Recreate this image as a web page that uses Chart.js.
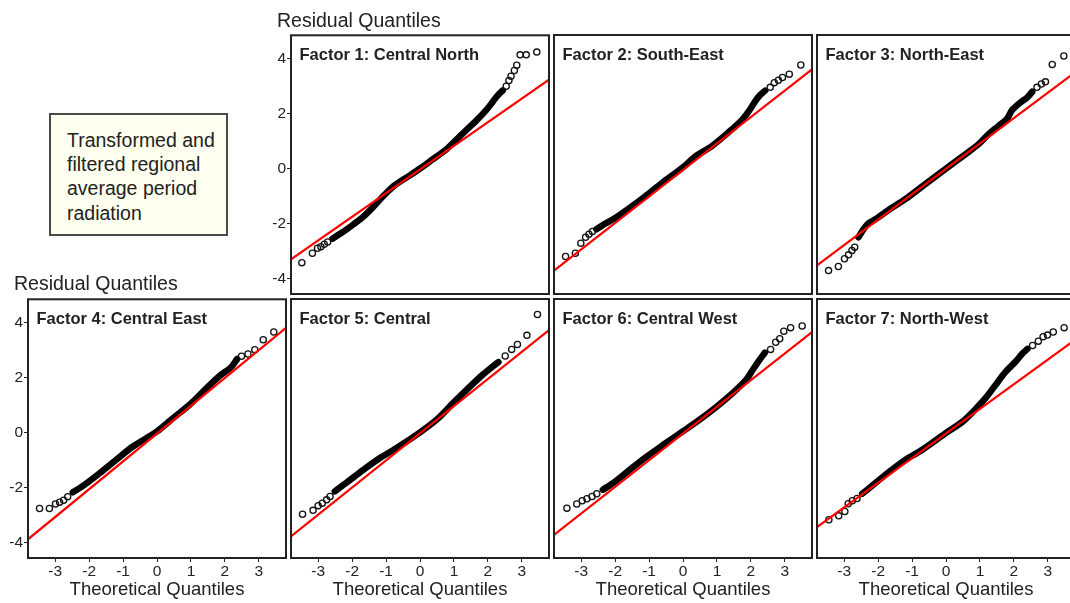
<!DOCTYPE html>
<html>
<head>
<meta charset="utf-8">
<script src="https://cdn.jsdelivr.net/npm/chart.js@4.4.1/dist/chart.umd.min.js"></script>
<style>
  html, body { margin: 0; padding: 0; background: #fff; }
  body { width: 1070px; height: 603px; overflow: hidden; position: relative;
         font-family: "Liberation Sans", Arial, sans-serif; color: #222; }
  canvas { position: absolute; }
  .lbl { position: absolute; white-space: nowrap; line-height: 1; }
  .axis { font-size: 19.5px; }
  .xaxis { font-size: 18.5px; width: 258px; text-align: center; }
  .ptitle { font-size: 16.5px; font-weight: bold; }
  .note { position: absolute; left: 49px; top: 113px; width: 175px; height: 119px;
          background: #fffff0; border: 2px solid #4a4a4a; }
  .note div { position: absolute; left: 16px; top: 13px; font-size: 19.5px; line-height: 24.2px; }
</style>
</head>
<body>

<div class="note"><div>Transformed and<br>filtered regional<br>average period<br>radiation</div></div>

<script>
// Axis ticks shared by all panels
const xTickValues = [-3, -2, -1, 0, 1, 2, 3];
const yTickValues = [-4, -2, 0, 2, 4];
const xRange = [-3.8, 3.8];
const yRange = [-4.55, 4.85];

const panelTitles = [
  "Factor 1: Central North", "Factor 2: South-East", "Factor 3: North-East",
  "Factor 4: Central East", "Factor 5: Central", "Factor 6: Central West", "Factor 7: North-West"
];

// Sample vs theoretical quantiles: dense body of each panel
const f1Body = [[-2.58,-2.54],[-2.38,-2.38],[-2.18,-2.22],[-1.94,-2.00],[-1.69,-1.76],[-1.49,-1.53],[-1.30,-1.28],[-1.00,-0.89],[-0.71,-0.57],[-0.31,-0.25],[0,0.01],[0.37,0.34],[0.77,0.70],[1.06,1.04],[1.36,1.40],[1.65,1.74],[1.95,2.13],[2.14,2.43],[2.29,2.67],[2.44,2.85]];
const f2Body = [[-2.55,-2.20],[-2.30,-2.00],[-2.01,-1.80],[-1.61,-1.46],[-1.12,-1.01],[-0.63,-0.53],[0,0.05],[0.35,0.43],[0.85,0.82],[1.34,1.32],[1.73,1.76],[1.93,2.07],[2.12,2.43],[2.27,2.67],[2.42,2.83]];
const f3Body = [[-2.58,-2.49],[-2.43,-2.20],[-2.28,-1.98],[-2.08,-1.84],[-1.69,-1.50],[-1.20,-1.11],[-0.71,-0.65],[0,0],[0.57,0.52],[0.96,0.89],[1.26,1.26],[1.55,1.55],[1.80,1.82],[1.95,2.13],[2.19,2.40],[2.39,2.58],[2.54,2.79]];
const f4Body = [[-2.48,-2.16],[-2.18,-1.93],[-1.69,-1.47],[-1.20,-0.98],[-0.71,-0.50],[0,0.05],[0.47,0.53],[0.96,1.02],[1.46,1.62],[1.85,2.07],[2.19,2.39],[2.36,2.68]];
const f5Body = [[-2.51,-2.13],[-2.16,-1.81],[-1.67,-1.35],[-1.18,-0.92],[-0.69,-0.56],[0,0.01],[0.49,0.47],[0.98,1.08],[1.38,1.56],[1.77,2.02],[2.06,2.32],[2.31,2.56]];
const f6Body = [[-2.36,-2.07],[-2.06,-1.83],[-1.57,-1.35],[-1.08,-0.88],[-0.59,-0.45],[0,0.05],[0.49,0.47],[0.98,0.93],[1.47,1.44],[1.87,1.93],[2.06,2.29],[2.26,2.65],[2.41,2.90]];
const f7Body = [[-2.47,-2.22],[-2.17,-1.92],[-1.68,-1.43],[-1.19,-0.98],[-0.70,-0.62],[0,-0.01],[0.48,0.39],[0.88,0.87],[1.17,1.26],[1.47,1.75],[1.76,2.21],[2.06,2.59],[2.25,2.87],[2.40,3.04]];

// Individual extreme observations in both tails
const f1Tail = [[-3.48,-3.41],[-3.17,-3.07],[-3.02,-2.89],[-2.92,-2.83],[-2.82,-2.74],[-2.72,-2.66],[2.54,3.00],[2.62,3.21],[2.68,3.36],[2.78,3.57],[2.85,3.76],[2.95,4.14],[3.13,4.14],[3.44,4.24]];
const f2Tail = [[-3.46,-3.19],[-3.17,-3.07],[-3.01,-2.71],[-2.87,-2.49],[-2.77,-2.38],[-2.67,-2.28],[2.57,2.95],[2.69,3.12],[2.81,3.21],[2.93,3.31],[3.13,3.43],[3.47,3.76]];
const f3Tail = [[-3.46,-3.70],[-3.17,-3.55],[-2.99,-3.27],[-2.87,-3.13],[-2.77,-2.97],[-2.69,-2.85],[2.68,2.95],[2.81,3.07],[2.93,3.15],[3.13,3.78],[3.47,4.09]];
const f4Tail = [[-3.46,-2.75],[-3.17,-2.75],[-2.99,-2.59],[-2.87,-2.52],[-2.75,-2.45],[-2.63,-2.32],[2.49,2.78],[2.68,2.86],[2.88,3.02],[3.13,3.38],[3.44,3.66]];
const f5Tail = [[-3.46,-2.96],[-3.15,-2.82],[-3.00,-2.65],[-2.88,-2.56],[-2.75,-2.44],[-2.65,-2.32],[2.51,2.78],[2.70,3.02],[2.87,3.20],[3.15,3.53],[3.46,4.29]];
const f6Tail = [[-3.42,-2.74],[-3.13,-2.59],[-2.97,-2.47],[-2.83,-2.40],[-2.68,-2.32],[-2.54,-2.22],[2.58,3.02],[2.73,3.28],[2.85,3.41],[2.97,3.68],[3.17,3.81],[3.51,3.87]];
const f7Tail = [[-3.45,-3.16],[-3.16,-3.02],[-2.98,-2.86],[-2.88,-2.58],[-2.76,-2.47],[-2.62,-2.39],[2.55,3.16],[2.72,3.32],[2.86,3.48],[2.99,3.54],[3.16,3.65],[3.48,3.81]];

// Reference (quartile) lines, given by their ends
const f1Line = [[-3.8,-3.29],[3.8,3.24]];
const f2Line = [[-3.8,-3.70],[3.8,3.60]];
const f3Line = [[-3.8,-3.51],[3.8,3.49]];
const f4Line = [[-3.8,-3.87],[3.8,3.81]];
const f5Line = [[-3.8,-3.77],[3.8,3.72]];
const f6Line = [[-3.8,-3.71],[3.8,3.65]];
const f7Line = [[-3.8,-3.43],[3.8,3.37]];

const bodies = [f1Body, f2Body, f3Body, f4Body, f5Body, f6Body, f7Body];
const tails  = [f1Tail, f2Tail, f3Tail, f4Tail, f5Tail, f6Tail, f7Tail];
const lines  = [f1Line, f2Line, f3Line, f4Line, f5Line, f6Line, f7Line];

// Panel frames on the page
const BOX_W = 258, BOX_H = 259;
const PAD_L = 40, PAD_T = 10, PAD_R = 10, PAD_B = 30;
const boxes = [
  [291, 35, false, true], [554, 35, false, false], [817, 35, false, false],
  [28, 299, true, true], [291, 299, true, false], [554, 299, true, false], [817, 299, true, false]
];

const toXY = arr => arr.map(p => ({ x: p[0], y: p[1] }));

const framePlugin = {
  id: 'frame',
  afterDatasetsDraw(chart) {
    const a = chart.chartArea, ctx = chart.ctx;
    ctx.save();
    ctx.strokeStyle = '#222';
    ctx.lineWidth = 2;
    ctx.strokeRect(a.left, a.top, a.right - a.left, a.bottom - a.top);
    ctx.restore();
  }
};

function addLabel(text, cls, left, top) {
  const d = document.createElement('div');
  d.className = 'lbl ' + cls;
  d.textContent = text;
  d.style.left = left + 'px';
  d.style.top = top + 'px';
  document.body.appendChild(d);
}

boxes.forEach((b, i) => {
  const [L, T, showX, showY] = b;
  const cv = document.createElement('canvas');
  cv.width = BOX_W + PAD_L + PAD_R;
  cv.height = BOX_H + PAD_T + PAD_B;
  cv.style.left = (L - PAD_L) + 'px';
  cv.style.top = (T - PAD_T) + 'px';
  document.body.appendChild(cv);

  const tickFont = { family: '"Liberation Sans", Arial, sans-serif', size: 15.5 };
  new Chart(cv.getContext('2d'), {
    type: 'scatter',
    data: {
      datasets: [
        { data: toXY(lines[i]), showLine: true, borderColor: '#ff0000', borderWidth: 2.2,
          pointRadius: 0, order: 0, clip: 0 },
        { data: toXY(tails[i]), showLine: false, borderColor: '#111', backgroundColor: 'rgba(0,0,0,0)',
          borderWidth: 1.3, pointRadius: 3.1, order: 1, clip: 0 },
        { data: toXY(bodies[i]), showLine: true, borderColor: '#000', borderWidth: 6.5,
          pointRadius: 0, tension: 0.3, borderCapStyle: 'round', borderJoinStyle: 'round',
          order: 2, clip: 0 }
      ]
    },
    options: {
      responsive: false, animation: false, devicePixelRatio: 1,
      layout: { padding: { left: 0, top: PAD_T, right: PAD_R, bottom: 0 } },
      plugins: { legend: { display: false }, tooltip: { enabled: false } },
      scales: {
        x: {
          type: 'linear', min: xRange[0], max: xRange[1],
          afterBuildTicks: s => { s.ticks = xTickValues.map(v => ({ value: v })); },
          afterFit: s => { s.height = PAD_B; },
          border: { display: false },
          grid: { display: showX, drawOnChartArea: false, drawTicks: true, tickLength: 4, color: '#222' },
          ticks: { display: showX, padding: 0, color: '#222', font: tickFont, maxRotation: 0 }
        },
        y: {
          type: 'linear', min: yRange[0], max: yRange[1],
          afterBuildTicks: s => { s.ticks = yTickValues.map(v => ({ value: v })); },
          afterFit: s => { s.width = PAD_L; },
          border: { display: false },
          grid: { display: showY, drawOnChartArea: false, drawTicks: true, tickLength: 4, color: '#222' },
          ticks: { display: showY, padding: 1, color: '#222', font: tickFont }
        }
      }
    },
    plugins: [framePlugin]
  });

  addLabel(panelTitles[i], 'ptitle', L + 8.5, T + 11);
  if (showX) addLabel('Theoretical Quantiles', 'xaxis', L, T + BOX_H + 22);
});

addLabel('Residual Quantiles', 'axis', 277, 11);
addLabel('Residual Quantiles', 'axis', 14, 274);
</script>
</body>
</html>
